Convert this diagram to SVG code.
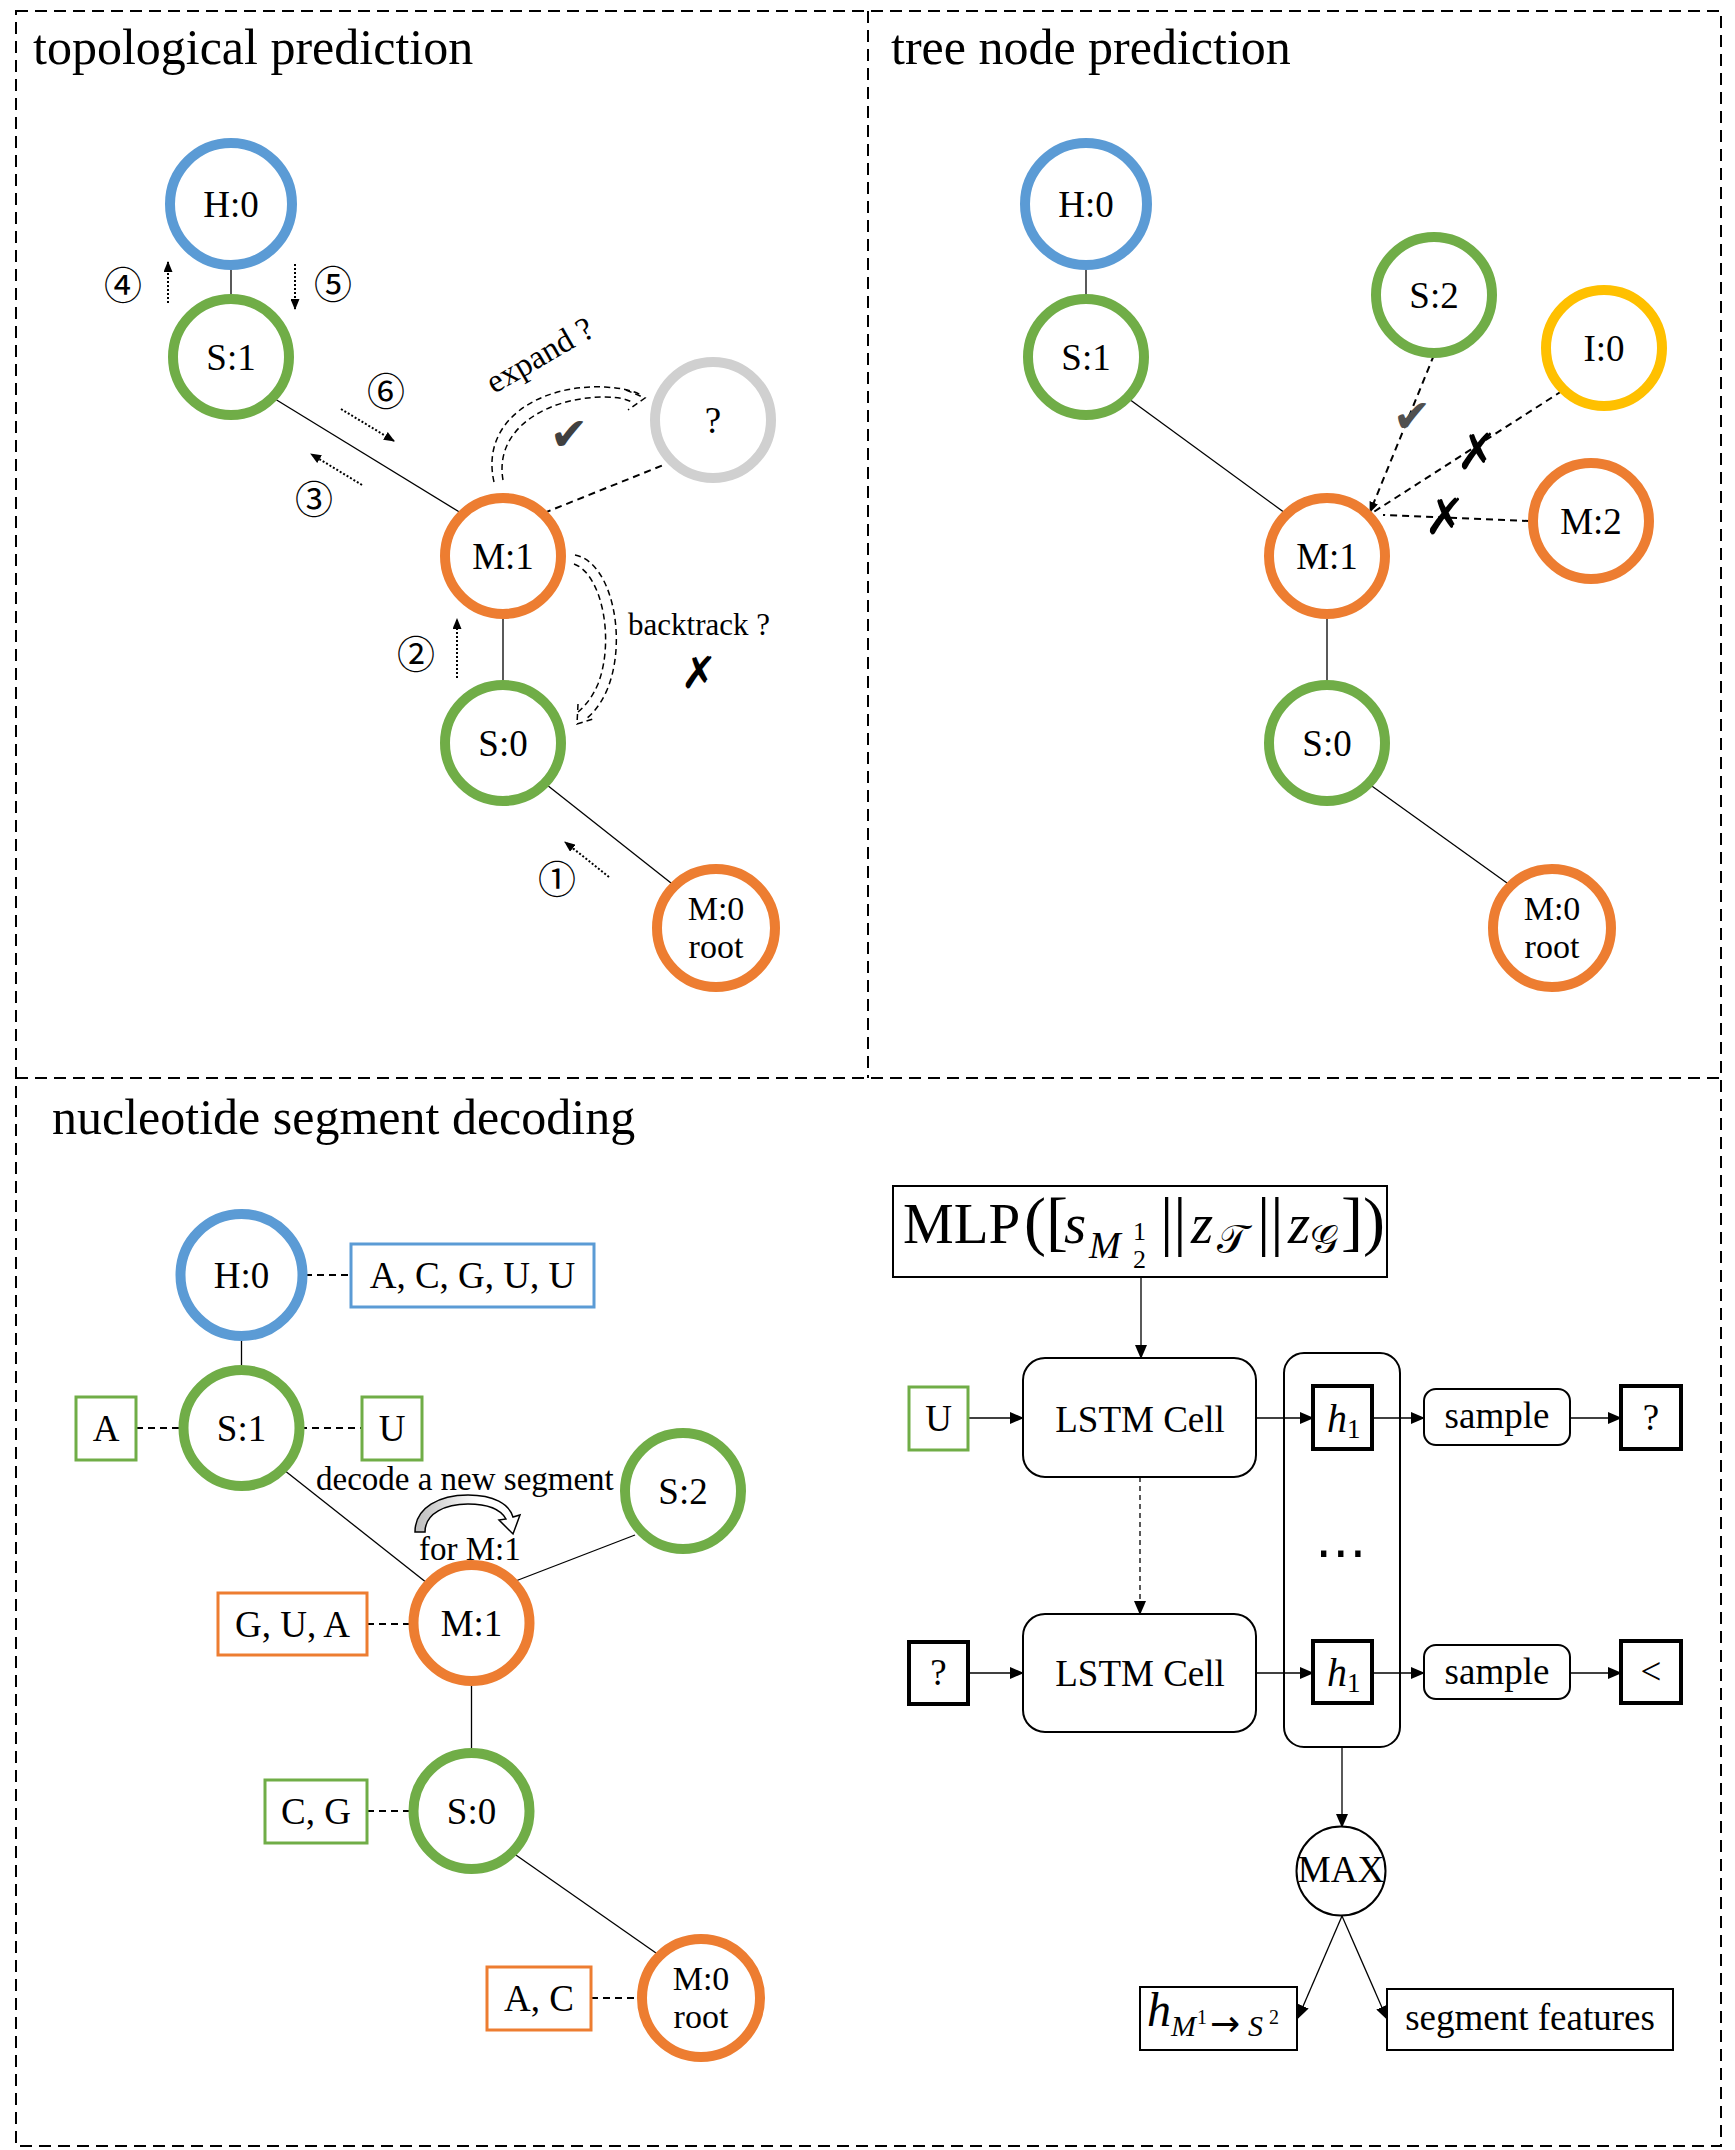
<svg xmlns="http://www.w3.org/2000/svg" width="1735" height="2150" viewBox="0 0 1735 2150">
<defs>
<style>
.panel{fill:none;stroke:#000;stroke-width:2;stroke-dasharray:12 7}
.nd{fill:#fff;stroke-width:10}
.blue{stroke:#5B9BD5}.green{stroke:#70AD47}.orange{stroke:#ED7D31}.yellow{stroke:#FFC000}.gray{stroke:#D0D0D0}
.lbl{font-family:"Liberation Serif","Times New Roman",serif;font-size:37px;text-anchor:middle;fill:#000}
.lbl2{font-family:"Liberation Serif","Times New Roman",serif;font-size:34px;text-anchor:middle;fill:#000}
.title{font-family:"Liberation Serif","Times New Roman",serif;font-size:50px;fill:#000}
.txt{font-family:"Liberation Serif","Times New Roman",serif;fill:#000}
.edge{stroke:#000;stroke-width:1.3;fill:none}
.dash{stroke:#000;stroke-width:2;stroke-dasharray:7 5;fill:none}
.dot{stroke:#000;stroke-width:2;stroke-dasharray:2 2;fill:none}
.arc{stroke:#000;stroke-width:1.5;stroke-dasharray:6 4;fill:none}
.box{fill:#fff;stroke-width:3}
.bk{fill:#fff;stroke:#000;stroke-width:2}
.bkn{fill:none;stroke:#000;stroke-width:2}
.bk4{fill:#fff;stroke:#000;stroke-width:4}
.step{font-family:"DejaVu Serif","Noto Sans CJK SC",serif;font-size:38px;text-anchor:middle;fill:#000}
.sym{font-family:"DejaVu Sans",sans-serif;text-anchor:middle}
</style>
<marker id="ah" markerUnits="userSpaceOnUse" markerWidth="14" markerHeight="12" viewBox="0 0 14 12" refX="13" refY="6" orient="auto"><path d="M0,0 L14,6 L0,12 z" fill="#000"/></marker>
<marker id="ahs" markerUnits="userSpaceOnUse" markerWidth="11" markerHeight="9" viewBox="0 0 11 9" refX="10" refY="4.5" orient="auto"><path d="M0,0 L11,4.5 L0,9 z" fill="#000"/></marker>
<linearGradient id="cg" x1="0" y1="0" x2="1" y2="0"><stop offset="0" stop-color="#bdbdbd"/><stop offset="0.6" stop-color="#ffffff"/></linearGradient>
</defs>
<rect width="1735" height="2150" fill="#fff"/>

<g id="panels">
<rect class="panel" x="16" y="11" width="1705" height="2135"/>
<line class="panel" x1="16" y1="1078" x2="1721" y2="1078"/>
<line class="panel" x1="868" y1="11" x2="868" y2="1078"/>
</g>

<g id="titles">
<text class="title" x="33" y="64">topological prediction</text>
<text class="title" x="891" y="64">tree node prediction</text>
<text class="title" x="52" y="1134">nucleotide segment decoding</text>
</g>

<g id="connectors">
<!-- top-left -->
<line class="edge" x1="231" y1="268" x2="231" y2="300"/>
<line class="edge" x1="275" y1="399" x2="461" y2="513"/>
<line class="edge" x1="503" y1="618" x2="503" y2="686"/>
<line class="edge" x1="547" y1="785" x2="671" y2="883"/>
<line class="dash" x1="544" y1="513" x2="666" y2="464"/>
<line class="dot" x1="168" y1="303" x2="168" y2="262" marker-end="url(#ahs)"/>
<line class="dot" x1="295" y1="264" x2="295" y2="309" marker-end="url(#ahs)"/>
<line class="dot" x1="341" y1="409" x2="394" y2="441" marker-end="url(#ahs)"/>
<line class="dot" x1="362" y1="485" x2="311" y2="454" marker-end="url(#ahs)"/>
<line class="dot" x1="457" y1="678" x2="457" y2="619" marker-end="url(#ahs)"/>
<line class="dot" x1="609" y1="877" x2="565" y2="842" marker-end="url(#ahs)"/>
<path class="arc" d="M494 482 C480 420 540 384 605 387 C622 388 634 391 641 395"/>
<path class="arc" d="M503 480 C494 428 548 397 605 397 C618 397 626 399 632 402"/>
<path class="arc" d="M626 390 L645 398 L628 410"/>
<path class="arc" d="M575 555 C612 562 628 640 607 690 C600 706 592 714 586 719"/>
<path class="arc" d="M574 564 C602 574 615 640 598 684 C592 698 585 706 578 712"/>
<path class="arc" d="M578 704 L577 724 L596 718"/>
<!-- top-right -->
<line class="edge" x1="1086" y1="268" x2="1086" y2="300"/>
<line class="edge" x1="1129" y1="399" x2="1285" y2="513"/>
<line class="edge" x1="1327" y1="618" x2="1327" y2="686"/>
<line class="edge" x1="1369" y1="784" x2="1507" y2="883"/>
<line class="dash" x1="1434" y1="355" x2="1370" y2="512" marker-end="url(#ahs)"/>
<line class="dash" x1="1562" y1="391" x2="1372" y2="513"/>
<line class="dash" x1="1529" y1="521" x2="1383" y2="515"/>
<!-- bottom-left -->
<line class="edge" x1="241.5" y1="1340" x2="241.5" y2="1372"/>
<line class="edge" x1="284" y1="1470" x2="427" y2="1583"/>
<line class="edge" x1="635" y1="1535" x2="513" y2="1582"/>
<line class="edge" x1="471.5" y1="1685" x2="471.5" y2="1755"/>
<line class="edge" x1="513" y1="1853" x2="656" y2="1953"/>
<line class="dash" x1="305" y1="1275" x2="351" y2="1275"/>
<line class="dash" x1="136" y1="1428" x2="183" y2="1428"/>
<line class="dash" x1="300" y1="1428" x2="362" y2="1428"/>
<line class="dash" x1="367" y1="1624" x2="412" y2="1624"/>
<line class="dash" x1="367" y1="1811" x2="412" y2="1811"/>
<line class="dash" x1="591" y1="1998" x2="641" y2="1998"/>
<path d="M415 1532 C415 1507 440 1495 468 1495 C494 1495 509 1504 513 1517 L520 1515 L513 1534 L499 1520 L506 1519 C501 1510 489 1504 468 1504 C446 1504 425 1513 425 1532 Z" fill="url(#cg)" stroke="#000" stroke-width="1.5"/>
<!-- bottom-right -->
<line class="edge" x1="1141" y1="1277" x2="1141" y2="1358" marker-end="url(#ah)"/>
<line class="edge" x1="968" y1="1418" x2="1023" y2="1418" marker-end="url(#ah)"/>
<line class="edge" x1="1256" y1="1418" x2="1313" y2="1418" marker-end="url(#ah)"/>
<line class="edge" x1="1372" y1="1418" x2="1424" y2="1418" marker-end="url(#ah)"/>
<line class="edge" x1="1570" y1="1418" x2="1621" y2="1418" marker-end="url(#ah)"/>
<line class="edge" x1="1140" y1="1477" x2="1140" y2="1614" stroke-dasharray="5 4" marker-end="url(#ah)"/>
<line class="edge" x1="968" y1="1673" x2="1023" y2="1673" marker-end="url(#ah)"/>
<line class="edge" x1="1256" y1="1673" x2="1313" y2="1673" marker-end="url(#ah)"/>
<line class="edge" x1="1372" y1="1673" x2="1424" y2="1673" marker-end="url(#ah)"/>
<line class="edge" x1="1570" y1="1673" x2="1621" y2="1673" marker-end="url(#ah)"/>
<line class="edge" x1="1342" y1="1747" x2="1342" y2="1827" marker-end="url(#ah)"/>
<line class="edge" x1="1342" y1="1916" x2="1298" y2="2018" marker-end="url(#ah)"/>
<line class="edge" x1="1342" y1="1916" x2="1387" y2="2019" marker-end="url(#ah)"/>
</g>

<g id="marks">
<text class="sym" x="569" y="450" font-size="46" fill="#404040">✔</text>
<text class="sym" x="699" y="688" font-size="44" font-weight="bold">✗</text>
<text class="sym" x="1412" y="432" font-size="46" fill="#505050">✔</text>
<text class="sym" x="1477" y="469" font-size="50" font-weight="bold">✗</text>
<text class="sym" x="1445" y="534" font-size="50" font-weight="bold">✗</text>
<text class="step" x="123" y="299">④</text>
<text class="step" x="333" y="298">⑤</text>
<text class="step" x="386" y="405">⑥</text>
<text class="step" x="314" y="513">③</text>
<text class="step" x="416" y="668">②</text>
<text class="step" x="557" y="893">①</text>
<text class="txt" font-size="33" transform="translate(494,394) rotate(-30)">expand ?</text>
<text class="txt" font-size="31" x="628" y="635">backtrack ?</text>
<text class="txt" font-size="33" x="316" y="1490">decode a new segment</text>
<text class="txt" font-size="33" x="419" y="1560">for M:1</text>
</g>

<!-- top-left nodes -->
<g id="tl-H0"><circle class="nd blue" cx="231" cy="204" r="61"/><text class="lbl" x="231" y="217">H:0</text></g>
<g id="tl-S1"><circle class="nd green" cx="231" cy="357" r="58"/><text class="lbl" x="231" y="370">S:1</text></g>
<g id="tl-Q"><circle class="nd gray" cx="713" cy="420" r="58"/><text class="lbl" x="713" y="433">?</text></g>
<g id="tl-M1"><circle class="nd orange" cx="503" cy="556" r="58"/><text class="lbl" x="503" y="569">M:1</text></g>
<g id="tl-S0"><circle class="nd green" cx="503" cy="743" r="58"/><text class="lbl" x="503" y="756">S:0</text></g>
<g id="tl-M0"><circle class="nd orange" cx="716" cy="928" r="59"/><text class="lbl2"><tspan x="716" y="920">M:0</tspan><tspan x="716" y="958">root</tspan></text></g>

<!-- top-right nodes -->
<g id="tr-H0"><circle class="nd blue" cx="1086" cy="204" r="61"/><text class="lbl" x="1086" y="217">H:0</text></g>
<g id="tr-S1"><circle class="nd green" cx="1086" cy="357" r="58"/><text class="lbl" x="1086" y="370">S:1</text></g>
<g id="tr-S2"><circle class="nd green" cx="1434" cy="295" r="58"/><text class="lbl" x="1434" y="308">S:2</text></g>
<g id="tr-I0"><circle class="nd yellow" cx="1604" cy="348" r="58"/><text class="lbl" x="1604" y="361">I:0</text></g>
<g id="tr-M2"><circle class="nd orange" cx="1591" cy="521" r="58"/><text class="lbl" x="1591" y="534">M:2</text></g>
<g id="tr-M1"><circle class="nd orange" cx="1327" cy="556" r="58"/><text class="lbl" x="1327" y="569">M:1</text></g>
<g id="tr-S0"><circle class="nd green" cx="1327" cy="743" r="58"/><text class="lbl" x="1327" y="756">S:0</text></g>
<g id="tr-M0"><circle class="nd orange" cx="1552" cy="928" r="59"/><text class="lbl2"><tspan x="1552" y="920">M:0</tspan><tspan x="1552" y="958">root</tspan></text></g>

<!-- bottom-left nodes -->
<g id="bl-H0"><circle class="nd blue" cx="241.5" cy="1275" r="61"/><text class="lbl" x="241.5" y="1288">H:0</text></g>
<g id="bl-S1"><circle class="nd green" cx="241.5" cy="1428" r="58"/><text class="lbl" x="241.5" y="1441">S:1</text></g>
<g id="bl-S2"><circle class="nd green" cx="683" cy="1491" r="58"/><text class="lbl" x="683" y="1504">S:2</text></g>
<g id="bl-M1"><circle class="nd orange" cx="471.5" cy="1623" r="58"/><text class="lbl" x="471.5" y="1636">M:1</text></g>
<g id="bl-S0"><circle class="nd green" cx="471.5" cy="1811" r="58"/><text class="lbl" x="471.5" y="1824">S:0</text></g>
<g id="bl-M0"><circle class="nd orange" cx="701" cy="1998" r="59"/><text class="lbl2"><tspan x="701" y="1990">M:0</tspan><tspan x="701" y="2028">root</tspan></text></g>
<g id="bl-seqH0"><rect class="box blue" x="351" y="1244" width="243" height="63"/><text class="lbl" x="472.5" y="1288">A, C, G, U, U</text></g>
<g id="bl-seqA"><rect class="box green" x="76" y="1397" width="60" height="63"/><text class="lbl" x="106" y="1441">A</text></g>
<g id="bl-seqU"><rect class="box green" x="362" y="1397" width="60" height="63"/><text class="lbl" x="392" y="1441">U</text></g>
<g id="bl-seqM1"><rect class="box orange" x="218" y="1593" width="149" height="62"/><text class="lbl" x="292.5" y="1637">G, U, A</text></g>
<g id="bl-seqS0"><rect class="box green" x="265" y="1780" width="102" height="63"/><text class="lbl" x="316" y="1824">C, G</text></g>
<g id="bl-seqM0"><rect class="box orange" x="487" y="1967" width="104" height="63"/><text class="lbl" x="539" y="2011">A, C</text></g>

<!-- bottom-right nodes -->
<g id="br-mlp"><rect class="bk" x="893" y="1186" width="494" height="91"/>
<text class="txt" font-size="57"><tspan x="903" y="1243">MLP</tspan><tspan x="1024" y="1243" font-size="66">([</tspan><tspan x="1064" y="1243" font-style="italic">s</tspan><tspan x="1089" y="1258" font-style="italic" font-size="38">M</tspan><tspan x="1133" y="1240" font-size="26">1</tspan><tspan x="1133" y="1268" font-size="26">2</tspan><tspan x="1160" y="1243" font-size="66">||</tspan><tspan x="1191" y="1243" font-style="italic">z</tspan><tspan x="1217" y="1253" font-size="40">𝒯</tspan><tspan x="1257" y="1243" font-size="66">||</tspan><tspan x="1288" y="1243" font-style="italic">z</tspan><tspan x="1310" y="1253" font-size="40">𝒢</tspan><tspan x="1341" y="1243" font-size="66">])</tspan></text></g>
<g id="br-inU"><rect class="box green" x="909" y="1387" width="59" height="63"/><text class="lbl" x="938.5" y="1431">U</text></g>
<g id="br-lstm1"><rect class="bk" x="1023" y="1358" width="233" height="119" rx="22"/><text class="lbl" x="1140" y="1432">LSTM Cell</text></g>
<g id="br-col"><rect class="bkn" x="1284" y="1353" width="116" height="394" rx="20"/><text class="sym" x="1341" y="1570" font-size="52">⋯</text></g>
<g id="br-h1a"><rect class="bk4" x="1313" y="1386" width="59" height="63"/><text class="txt" font-size="40" font-style="italic" x="1327" y="1432">h<tspan font-style="normal" font-size="27" dy="6">1</tspan></text></g>
<g id="br-sample1"><rect class="bk" x="1424" y="1389" width="146" height="56" rx="12"/><text class="lbl" x="1497" y="1428">sample</text></g>
<g id="br-outQ"><rect class="bk4" x="1621" y="1386" width="60" height="63"/><text class="lbl" x="1651" y="1430">?</text></g>
<g id="br-inQ"><rect class="bk4" x="909" y="1642" width="59" height="62"/><text class="lbl" x="938.5" y="1685">?</text></g>
<g id="br-lstm2"><rect class="bk" x="1023" y="1614" width="233" height="118" rx="22"/><text class="lbl" x="1140" y="1686">LSTM Cell</text></g>
<g id="br-h1b"><rect class="bk4" x="1313" y="1641" width="59" height="62"/><text class="txt" font-size="40" font-style="italic" x="1327" y="1686">h<tspan font-style="normal" font-size="27" dy="6">1</tspan></text></g>
<g id="br-sample2"><rect class="bk" x="1424" y="1645" width="146" height="54" rx="12"/><text class="lbl" x="1497" y="1684">sample</text></g>
<g id="br-outLt"><rect class="bk4" x="1621" y="1641" width="60" height="62"/><text class="lbl" x="1651" y="1684">&lt;</text></g>
<g id="br-max"><circle class="bk" cx="1341" cy="1871" r="44.5"/><text class="lbl" x="1341" y="1882" font-size="32">MAX</text></g>
<g id="br-h"><rect class="bk" x="1140" y="1987" width="157" height="63"/><text class="txt" font-size="48" font-style="italic"><tspan x="1147" y="2026">h</tspan><tspan x="1171" y="2036" font-size="30">M</tspan><tspan x="1197" y="2024" font-size="20" font-style="normal">1</tspan><tspan x="1210" y="2036" font-size="36" font-style="normal" font-family="DejaVu Sans">→</tspan><tspan x="1248" y="2036" font-size="30">S</tspan><tspan x="1269" y="2024" font-size="20" font-style="normal">2</tspan></text></g>
<g id="br-feat"><rect class="bk" x="1387" y="1989" width="286" height="61"/><text class="lbl" x="1530" y="2030">segment features</text></g>
</svg>
